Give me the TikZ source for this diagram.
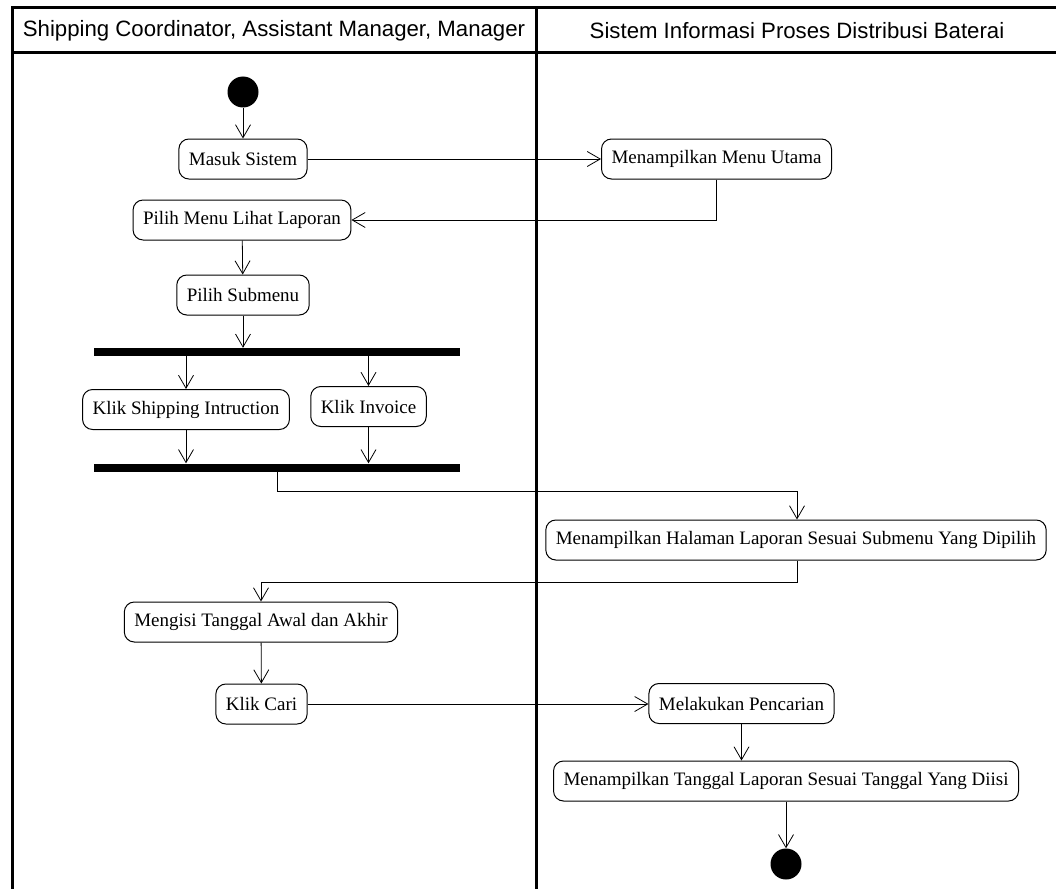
\documentclass[tikz,border=0pt]{standalone}
\usepackage{fontspec}
\setmainfont{Liberation Serif}
\newfontfamily\headfont{Liberation Sans}
\usetikzlibrary{arrows.meta}
\begin{document}
\begin{tikzpicture}[x=1pt,y=-1pt,
  act/.style={draw,line width=1pt,rounded corners=10pt,minimum height=40pt,inner xsep=10pt,
    font=\fontsize{19}{22}\selectfont},
  bar/.style={fill=black,inner sep=0pt,minimum width=366pt,minimum height=8pt},
  dot/.style={circle,fill=black,inner sep=0pt,minimum size=31pt},
  flow/.style={line width=0.8pt,-{Straight Barb[length=13pt,width=15pt,line width=0.8pt]}},
  lane/.style={line width=3pt},
  head/.style={font=\headfont\fontsize{22.2}{26}\selectfont}]
\useasboundingbox (0,0) rectangle (1056,888);
% swimlane frame
\draw[lane] (1058,8) -- (12,8) -- (12,890);
\draw[lane] (12,53) -- (1058,53);
\draw[lane] (536,8) -- (536,890);
\node[head] (h1) at (274,31) {Shipping Coordinator, Assistant Manager, Manager};
\node[head] (h2) at (797,31) {Sistem Informasi Proses Distribusi Baterai};
% actions
\node[dot] (start) at (243,92) {};
\node[act] (masuk) at (243,159) {Masuk Sistem};
\node[act] (menu) at (716.5,159) {Menampilkan Menu Utama};
\node[act] (pilih) at (242,220) {Pilih Menu Lihat Laporan};
\node[act] (sub) at (243,295) {Pilih Submenu};
\node[bar] (fork) at (277,352) {};
\node[act] (ship) at (186,409.5) {Klik Shipping Intruction};
\node[act] (inv) at (368.5,406.5) {Klik Invoice};
\node[bar] (join) at (277,467.5) {};
\node[act] (hal) at (796,540) {Menampilkan Halaman Laporan Sesuai Submenu Yang Dipilih};
\node[act] (isi) at (261,622) {Mengisi Tanggal Awal dan Akhir};
\node[act] (cari) at (261.5,704) {Klik Cari};
\node[act] (lak) at (741.5,703.5) {Melakukan Pencarian};
\node[act] (tgl) at (786,781) {Menampilkan Tanggal Laporan Sesuai Tanggal Yang Diisi};
\node[dot] (end) at (786,864) {};
% control flow
\draw[flow] (start) -- (masuk);
\draw[flow] (masuk) -- (menu);
\draw[flow] (menu.south) |- (pilih.east);
\draw[flow] (pilih) -- (sub);
\draw[flow] (sub.south) -- (sub.south |- fork.north);
\draw[flow] (ship.north |- fork.south) -- (ship.north);
\draw[flow] (inv.north |- fork.south) -- (inv.north);
\draw[flow] (ship.south) -- (ship.south |- join.north);
\draw[flow] (inv.south) -- (inv.south |- join.north);
\coordinate (j1) at (277,491);
\coordinate (h1c) at (797,491);
\draw[flow] (join.south) -- (j1) -- (h1c) -- (h1c |- hal.north);
\coordinate (k1) at (797,582);
\coordinate (k2) at (261,582);
\draw[flow] (k1 |- hal.south) -- (k1) -- (k2) -- (isi.north);
\draw[flow] (isi) -- (cari);
\draw[flow] (cari.east) -- (cari.east -| lak.west);
\draw[flow] (lak.south) -- (lak.south |- tgl.north);
\draw[flow] (tgl) -- (end);
\end{tikzpicture}
\end{document}
